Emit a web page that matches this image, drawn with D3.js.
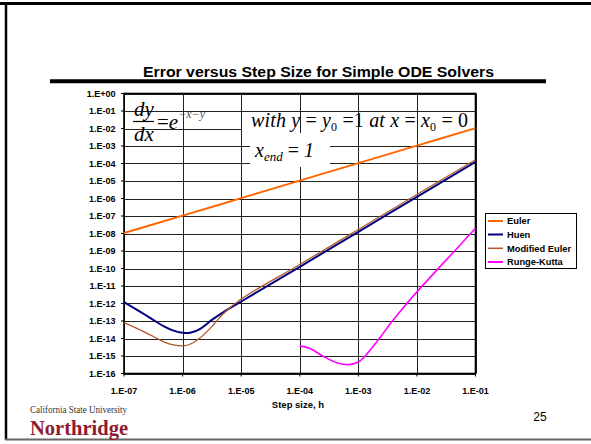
<!DOCTYPE html>
<html><head><meta charset="utf-8">
<script src="https://cdn.jsdelivr.net/npm/d3@7"></script>
<style>body{margin:0;background:#fff}svg{display:block}</style>
</head><body>
<script>
// ---------- data ----------
const xTickLabels = ["1.E-07","1.E-06","1.E-05","1.E-04","1.E-03","1.E-02","1.E-01"];
const yTickLabels = ["1.E+00","1.E-01","1.E-02","1.E-03","1.E-04","1.E-05","1.E-06","1.E-07","1.E-08",
  "1.E-09","1.E-10","1.E-11","1.E-12","1.E-13","1.E-14","1.E-15","1.E-16"];
const seriesNames = ["Euler","Huen","Modified Euler","Runge-Kutta"];
const seriesColors = ["#FF6600","#000080","#B05A2A","#FF00FF"];

const eulerH = [1e-7,1e-6,1e-5,1e-4,1e-3,1e-2,1e-1];
const eulerErr = [1.07e-8,1.05e-7,1.05e-6,1.05e-5,1.05e-4,1.05e-3,1.05e-2];

const huenH = [1e-7,2e-7,3.16e-7,5e-7,7e-7,1e-6,1.4e-6,2e-6,3.16e-6,5e-6,1e-5,1e-4,1e-3,1e-2,1e-1];
const huenErr = [1.2e-12,3.0e-13,1.15e-13,4.6e-14,2.8e-14,2.1e-14,2.2e-14,3.6e-14,1.15e-13,3.2e-13,1.3e-12,1.25e-10,1.25e-8,1.25e-6,1.25e-4];

const modH = [1e-7,2e-7,3.16e-7,5e-7,7e-7,1e-6,1.4e-6,2e-6,3.16e-6,5e-6,1e-5,1e-4,1e-3,1e-2,1e-1];
const modErr = [8e-14,2.8e-14,1.3e-14,6e-15,4.3e-15,3.8e-15,5e-15,1.1e-14,4.8e-14,2.7e-13,1.8e-12,1.7e-10,1.7e-8,1.7e-6,1.65e-4];

const rkH = [1e-4,1.5e-4,2.5e-4,4.3e-4,6.8e-4,1e-3,1.25e-3,1.6e-3,2e-3,2.5e-3,3.5e-3,5e-3,1e-2,2e-2,3.2e-2,5e-2,1e-1];
const rkErr = [3.8e-15,2.7e-15,9.7e-16,4.1e-16,3.2e-16,4.5e-16,8.5e-16,2.2e-15,5.8e-15,1.5e-14,6.9e-14,3.1e-13,4.6e-12,5.8e-11,3.2e-10,1.6e-9,2.0e-8];

// ---------- drawing ----------
const W = 591, H = 444;
const svg = d3.select("body").append("svg").attr("width", W).attr("height", H);
const L = 124, R = 475.5, T = 93.5, B = 373.5;
const x = d3.scaleLog().domain([1e-7, 1e-1]).range([L, R]);
const y = d3.scaleLog().domain([1e-16, 1]).range([B, T]);
const xTicks = xTickLabels.map(s => +s.replace("E", "e"));
const yTicks = yTickLabels.map(s => +s.replace("E", "e"));
const sans = "Liberation Sans, Arial, sans-serif";
const serif = "Liberation Serif, Times New Roman, serif";

// slide frame
svg.append("line").attr("x1", 0).attr("x2", W).attr("y1", 3.5).attr("y2", 3.5).attr("stroke", "#000").attr("stroke-width", 3);
svg.append("line").attr("x1", 6).attr("x2", 6).attr("y1", 2).attr("y2", 440).attr("stroke", "#000").attr("stroke-width", 2.5);
svg.append("line").attr("x1", 5).attr("x2", W).attr("y1", 439.5).attr("y2", 439.5).attr("stroke", "#666").attr("stroke-width", 2);

// title + rule
svg.append("text").attr("x", 143).attr("y", 77).attr("textLength", 351).attr("lengthAdjust", "spacingAndGlyphs")
  .attr("font-family", sans).attr("font-weight", "bold").attr("font-size", 14.5)
  .text("Error versus Step Size for Simple ODE Solvers");
svg.append("line").attr("x1", 50).attr("x2", 546).attr("y1", 81.3).attr("y2", 81.3).attr("stroke", "#000").attr("stroke-width", 4);

// horizontal gridlines
svg.append("g").selectAll("line").data(yTicks).join("line")
  .attr("x1", L).attr("x2", R).attr("y1", d => Math.round(y(d)) + 0.5).attr("y2", d => Math.round(y(d)) + 0.5)
  .attr("stroke", "#222").attr("stroke-width", 1);
// white band behind the "with ..." text (hides the 1E-02 gridline)
svg.append("rect").attr("x", 242).attr("y", y(1e-2) - 4).attr("width", R - 243).attr("height", 8).attr("fill", "#fff");
// vertical gridlines
svg.append("g").selectAll("line").data(xTicks).join("line")
  .attr("x1", d => Math.round(x(d)) + 0.5).attr("x2", d => Math.round(x(d)) + 0.5).attr("y1", T).attr("y2", B)
  .attr("stroke", "#222").attr("stroke-width", 1);
// white box behind x_end
svg.append("rect").attr("x", 250).attr("y", 133).attr("width", 80).attr("height", 34).attr("fill", "#fff");

// plot frame
svg.append("rect").attr("x", L).attr("y", T).attr("width", R - L).attr("height", B - T)
  .attr("fill", "none").attr("stroke", "#000").attr("stroke-width", 1.6);

// ticks
svg.append("g").selectAll("line").data(yTicks).join("line")
  .attr("x1", L - 3).attr("x2", L).attr("y1", d => y(d)).attr("y2", d => y(d)).attr("stroke", "#000");
svg.append("g").selectAll("line").data(xTicks).join("line")
  .attr("x1", d => x(d)).attr("x2", d => x(d)).attr("y1", B).attr("y2", B + 3).attr("stroke", "#000");

// tick labels
svg.append("g").selectAll("text").data(yTickLabels).join("text")
  .attr("x", 115.5).attr("y", (d, i) => y(yTicks[i]) + 3.2).attr("text-anchor", "end")
  .attr("font-family", sans).attr("font-weight", "bold").attr("font-size", 9).text(d => d);
svg.append("g").selectAll("text").data(xTickLabels).join("text")
  .attr("x", (d, i) => x(xTicks[i])).attr("y", 394).attr("text-anchor", "middle")
  .attr("font-family", sans).attr("font-weight", "bold").attr("font-size", 9).text(d => d);

// axis titles
svg.append("text").attr("x", 298).attr("y", 408).attr("text-anchor", "middle")
  .attr("font-family", sans).attr("font-weight", "bold").attr("font-size", 9.5).text("Step size, h");
svg.append("defs").append("clipPath").attr("id", "yclip").append("rect")
  .attr("x", 55).attr("y", 221.5).attr("width", 30).attr("height", 30);
svg.append("text").attr("clip-path", "url(#yclip)")
  .attr("transform", "translate(72.5,243.5) rotate(-90)").attr("text-anchor", "start")
  .attr("font-family", sans).attr("font-weight", "bold").attr("font-size", 10).text("Error");

// series
const line = d3.line().x(d => x(d[0])).y(d => y(d[1])).curve(d3.curveCatmullRom.alpha(0.5));
const series = [
  {h: eulerH, e: eulerErr, w: 2},
  {h: huenH, e: huenErr, w: 2},
  {h: modH, e: modErr, w: 1.3},
  {h: rkH, e: rkErr, w: 1.6}
];
series.forEach((s, i) => {
  svg.append("path").datum(s.h.map((h, j) => [h, s.e[j]]))
    .attr("d", line).attr("fill", "none").attr("stroke", seriesColors[i]).attr("stroke-width", s.w);
});

// legend
const lg = svg.append("g");
lg.append("rect").attr("x", 485.5).attr("y", 213.5).attr("width", 91).attr("height", 55)
  .attr("fill", "#fff").attr("stroke", "#000").attr("stroke-width", 1);
const ly = [221, 234.5, 248.3, 262];
seriesNames.forEach((n, i) => {
  lg.append("line").attr("x1", 488).attr("x2", 503).attr("y1", ly[i]).attr("y2", ly[i])
    .attr("stroke", seriesColors[i]).attr("stroke-width", i === 2 ? 1.5 : 2);
  lg.append("text").attr("x", 507).attr("y", ly[i] + 3.3).attr("font-family", sans)
    .attr("font-weight", "bold").attr("font-size", 9.3).text(n);
});

// equations
const eq = svg.append("g").attr("font-family", serif).attr("font-size", 21);
eq.append("text").attr("x", 134).attr("y", 116).attr("font-style", "italic").text("dy");
eq.append("line").attr("x1", 133).attr("x2", 154).attr("y1", 121.5).attr("y2", 121.5).attr("stroke", "#000").attr("stroke-width", 1.2);
eq.append("text").attr("x", 134).attr("y", 141).attr("font-style", "italic").text("dx");
const e1 = eq.append("text").attr("x", 157).attr("y", 128.5);
e1.append("tspan").text("=");
e1.append("tspan").attr("font-style", "italic").text("e");
e1.append("tspan").attr("font-size", 12).attr("dy", -11).attr("font-style", "italic").attr("fill", "#555").text("−x−y");

const e2 = eq.append("text").attr("x", 251).attr("y", 127).attr("font-size", 20).attr("textLength", 217).attr("lengthAdjust", "spacing");
e2.append("tspan").attr("font-style", "italic").text("with  y");
e2.append("tspan").text(" = ");
e2.append("tspan").attr("font-style", "italic").text("y");
e2.append("tspan").attr("font-size", 12).attr("dy", 4).text("0");
e2.append("tspan").attr("dy", -4).text(" =1 ");
e2.append("tspan").attr("font-style", "italic").text("at x");
e2.append("tspan").text(" = ");
e2.append("tspan").attr("font-style", "italic").text("x");
e2.append("tspan").attr("font-size", 12).attr("dy", 4).text("0");
e2.append("tspan").attr("dy", -4).text(" = 0");

const e3 = eq.append("text").attr("x", 255).attr("y", 157).attr("font-size", 20);
e3.append("tspan").attr("font-style", "italic").text("x");
e3.append("tspan").attr("font-size", 13).attr("dy", 4).attr("font-style", "italic").text("end");
e3.append("tspan").attr("dy", -4).text(" = ");
e3.append("tspan").attr("font-style", "italic").text("1");

// footer
svg.append("text").attr("x", 30).attr("y", 413).attr("font-family", serif).attr("font-size", 10.5)
  .attr("fill", "#333").attr("textLength", 97).attr("lengthAdjust", "spacingAndGlyphs").text("California State University");
svg.append("text").attr("x", 30).attr("y", 435).attr("font-family", serif).attr("font-weight", "bold")
  .attr("font-size", 21).attr("fill", "#8E1B30").attr("textLength", 98).attr("lengthAdjust", "spacingAndGlyphs").text("Northridge");
svg.append("text").attr("x", 540).attr("y", 421).attr("text-anchor", "middle").attr("font-family", sans)
  .attr("font-size", 12).text("25");
</script>
</body></html>
